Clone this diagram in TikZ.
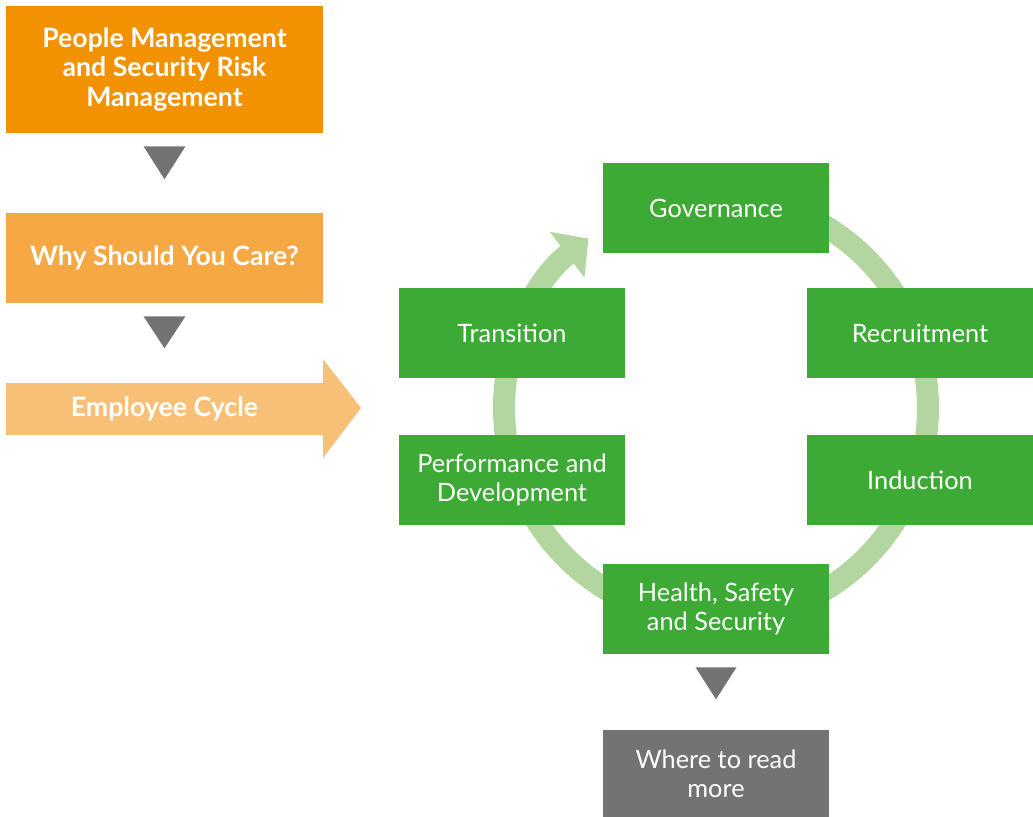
\documentclass[tikz,border=0pt]{standalone}
\usepackage{fontspec}
\setmainfont{Lato}
\usetikzlibrary{arrows.meta,calc}
\definecolor{pmorange}{HTML}{F39200}
\definecolor{whyorange}{HTML}{F5A843}
\definecolor{cycorange}{HTML}{F8C077}
\definecolor{boxgreen}{HTML}{3DAA35}
\definecolor{ringgreen}{HTML}{B3D6A0}
\definecolor{pointgray}{HTML}{737373}
\tikzset{
  stage/.style={fill=boxgreen,text=white,minimum width=169.5pt,minimum height=67.5pt,
    align=center,inner sep=0pt,font=\fontsize{19}{22}\selectfont},
  intro/.style={text=white,minimum width=237.75pt,align=center,inner sep=0pt,
    font=\fontsize{20}{22}\selectfont\bfseries},
  pointer/.style={fill=pointgray}
}
\begin{document}
\begin{tikzpicture}[x=0.75pt,y=-0.75pt]
\useasboundingbox (0,0) rectangle (1033,817);
% cycle ring
\draw[ringgreen,line width=16.5pt,-{Triangle[width=42pt,length=20pt]}] (716,408) ++(-90:212) arc[start angle=-90,end angle=233,radius=212];
% left column
\node[intro,fill=pmorange,minimum height=95.25pt] (pm) at (164.5,69.5) {People Management\\and Security Risk\\Management};
\node[intro,fill=whyorange,minimum height=67.5pt] (why) at (164.5,258) {Why Should You Care?};
\fill[cycorange] (6,383) -- (323,383) -- (323,359) -- (361,408) -- (323,458) -- (323,435) -- (6,435) -- cycle;
\node[intro,minimum height=39pt] (cycle) at (164.5,409) {Employee Cycle};
\fill[pointer] ($(pm.south)+(-21,13)$) -- ++(42,0) -- ++(-21,33) -- cycle;
\fill[pointer] ($(why.south)+(-21,13)$) -- ++(42,0) -- ++(-21,32) -- cycle;
% stages
\node[stage] (gov) at (716,208) {Governance};
\node[stage] (rec) at (920,333) {Recruitment};
\node[stage] (ind) at (920,480) {Induction};
\node[stage] (hss) at (716,609) {Health, Safety\\and Security};
\node[stage] (perf) at (512,480) {Performance and\\Development};
\node[stage] (trans) at (512,333) {Transition};
\fill[pointer] ($(hss.south)+(-20.5,13)$) -- ++(41,0) -- ++(-20.5,32) -- cycle;
\node[stage,fill=pointgray,minimum height=65.25pt] (more) at (716,773.5) {Where to read\\more};
\end{tikzpicture}
\end{document}
